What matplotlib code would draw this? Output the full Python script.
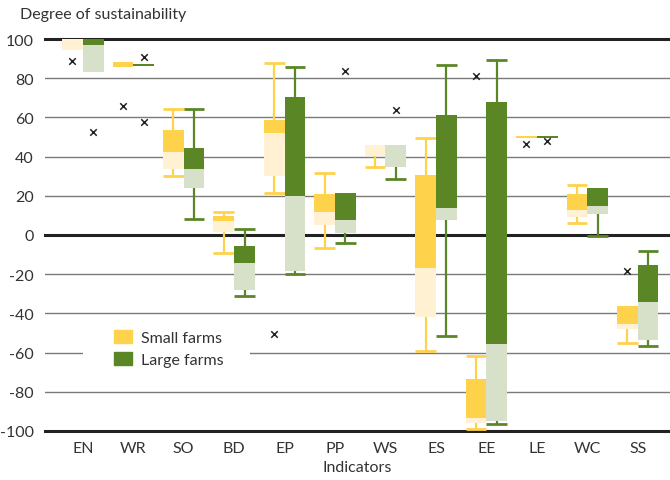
import numpy as np
import matplotlib
matplotlib.use("Agg")
import matplotlib.pyplot as plt
from matplotlib.patches import Rectangle
import matplotlib.transforms as mtransforms

plt.rcParams['font.family'] = ['Lato', 'DejaVu Sans']
plt.rcParams['axes.unicode_minus'] = False

#-------------------------------Data--------------------------------
indicators = ['EN', 'WR', 'SO', 'BD', 'EP', 'PP', 'WS', 'ES', 'EE', 'LE', 'WC', 'SS']

# small farms: lower whisker, Q1, median, Q3, upper whisker
small_lo  = [94.5, 85.8, 29.9, -9.3, 21.4, -6.6, 34.5, -59.2, -99.0, 49.6,  6.0, -54.9]
small_q1  = [94.5, 85.8, 33.7,  1.4, 30.3,  5.3, 40.3, -41.7, -95.9, 49.6,  9.3, -47.8]
small_med = [100., 85.8, 42.5,  7.3, 52.0, 11.9, 45.9, -16.8, -93.4, 49.6, 12.8, -45.6]
small_q3  = [100., 88.3, 53.6,  9.7, 58.7, 20.9, 45.9,  30.6, -73.5, 50.5, 20.9, -36.2]
small_hi  = [100., 88.3, 64.3, 11.9, 87.6, 31.5, 45.9,  49.7, -61.7, 50.5, 25.5, -36.2]

# large farms
large_lo  = [83.0, 86.2,  8.2, -31.0, -19.9, -3.9, 28.4, -51.5, -96.6, 49.6, -0.3, -56.6]
large_q1  = [83.0, 86.2, 24.0, -27.9, -18.2,  1.2, 34.9,   7.8, -94.7, 49.6, 10.7, -53.4]
large_med = [97.1, 86.2, 33.7, -14.3,  19.9,  7.7, 45.9,  13.8, -55.6, 49.6, 14.8, -34.2]
large_q3  = [100., 87.2, 44.4,  -5.8,  70.2, 21.4, 45.9,  61.1,  67.9, 50.5, 24.0, -15.3]
large_hi  = [100., 87.2, 64.3,   3.1,  85.9, 21.4, 45.9,  86.9,  89.1, 50.5, 24.0,  -8.2]

# outliers (indicator index, value)
small_out_idx = [0, 1, 4, 8, 9, 11]
small_out_val = [89.0, 66.0, -50.5, 81.0, 46.3, -18.4]
large_out_idx = [0, 1, 1, 5, 6, 9]
large_out_val = [52.4, 91.0, 57.8, 83.8, 63.8, 47.8]

yellow, yellow_lt = '#FFD24C', '#FFF1D1'
green, green_lt = '#5B8626', '#D7E1C9'
txt = '#333333'

#-------------------------------Plot--------------------------------
fig = plt.figure(figsize=(6.7, 4.81), dpi=100)
ax = fig.add_axes([45/670, 49/481, 625/670, 392/481])

pos = np.arange(1, len(indicators) + 1)
w = 0.41
off = 0.205


def draw_boxes(x, lo, q1, med, q3, hi, dark, light):
    lo, q1, med, q3, hi = map(np.array, (lo, q1, med, q3, hi))
    ax.bar(x, q3 - med, bottom=med, width=w, color=dark, zorder=3)
    ax.bar(x, med - q1, bottom=q1, width=w, color=light, zorder=3)
    up = hi > q3
    dn = lo < q1
    ax.vlines(x[up], q3[up], hi[up], color=dark, lw=1.6, zorder=2)
    ax.hlines(hi[up], x[up] - w/2, x[up] + w/2, color=dark, lw=2, zorder=2)
    ax.vlines(x[dn], lo[dn], q1[dn], color=dark, lw=1.6, zorder=2)
    ax.hlines(lo[dn], x[dn] - w/2, x[dn] + w/2, color=dark, lw=2, zorder=2)


draw_boxes(pos - off, small_lo, small_q1, small_med, small_q3, small_hi, yellow, yellow_lt)
draw_boxes(pos + off, large_lo, large_q1, large_med, large_q3, large_hi, green, green_lt)

ax.scatter(pos[small_out_idx] - off, small_out_val, marker='x', s=22, color='#222222', lw=1.1, zorder=4)
ax.scatter(pos[large_out_idx] + off, large_out_val, marker='x', s=22, color='#222222', lw=1.1, zorder=4)

# grid lines
for yv in [80, 60, 40, 20, -20, -40, -60, -80]:
    ax.axhline(yv, color='#7a7a7a', lw=1, zorder=0)
for yv in [100, 0, -100]:
    ax.axhline(yv, color='#222222', lw=2.2, zorder=1, clip_on=False)

# white patch behind legend breaks the -60 line
trans = mtransforms.blended_transform_factory(ax.transAxes, ax.transData)
ax.add_patch(Rectangle((38/625, -66), 167/625, 12, transform=trans,
                       facecolor='white', edgecolor='none', zorder=0.5))

ax.set_xlim(0.25, 12.64)
ax.set_ylim(-100, 100)
ax.set_yticks(np.arange(-100, 101, 20))
ax.set_xticks(pos)
ax.set_xticklabels(indicators)
ax.tick_params(axis='both', length=0, labelsize=11.5, colors=txt)
ax.tick_params(axis='y', pad=8)
ax.tick_params(axis='x', pad=7)
for s in ax.spines.values():
    s.set_visible(False)

ax.set_xlabel('Indicators', fontsize=11.5, color=txt, labelpad=4)
fig.text(20/670, 1 - 15/481, 'Degree of sustainability', fontsize=11.5, color=txt,
         ha='left', va='center')

handles = [Rectangle((0, 0), 1, 1, color=yellow), Rectangle((0, 0), 1, 1, color=green)]
leg = ax.legend(handles, ['Small farms', 'Large farms'], loc='upper left',
                bbox_to_anchor=(114/670, 1 - 331/481), bbox_transform=fig.transFigure,
                frameon=False, fontsize=11.5, handlelength=1.15, handleheight=0.85,
                handletextpad=0.55, labelspacing=0.45, borderpad=0, borderaxespad=0)
for t in leg.get_texts():
    t.set_color(txt)

fig.savefig('out.png', dpi=100)
